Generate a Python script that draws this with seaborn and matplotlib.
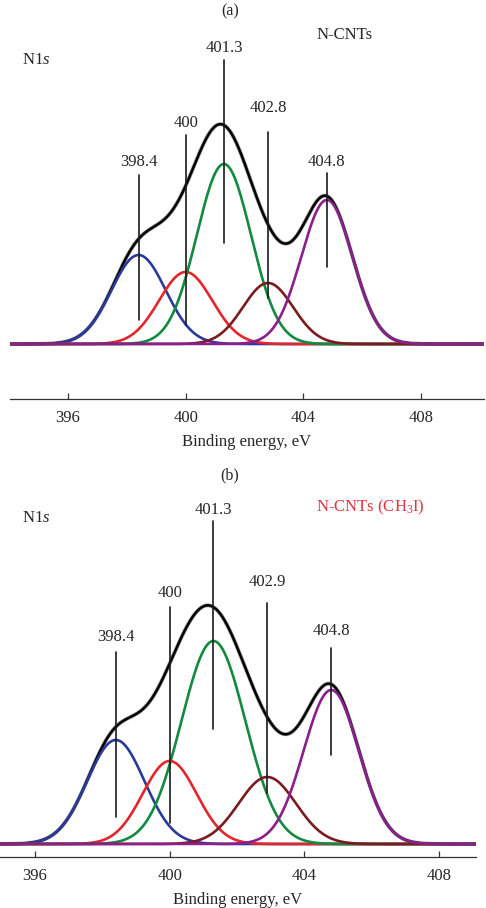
import numpy as np
import pandas as pd
import matplotlib
matplotlib.use("Agg")
import matplotlib.pyplot as plt
import seaborn as sns

# ---------------- data ----------------
components = ["398.4", "400", "401.3", "402.8/402.9", "404.8"]
colors = ["#2a3a9c", "#e3262b", "#128a3f", "#7a1c1f", "#8c1f8e"]

# panel (a) N-CNTs
a_centers = [398.4, 400.0, 401.3, 402.8, 404.8]
a_heights = [89, 72, 180, 61, 144]
a_sigmas = [0.92, 0.9, 0.92, 0.85, 0.87]
a_labels = ["398.4", "400", "401.3", "402.8", "404.8"]
a_label_y = [182, 221, 296, 236, 182]
a_line_lo = [24, 19, 101, 46, 77]
a_line_hi = [169, 209, 284, 212, 171]

# panel (b) N-CNTs (CH3I)
b_centers = [398.4, 400.0, 401.3, 402.9, 404.8]
b_heights = [104, 83, 203, 67, 154]
b_sigmas = [0.85, 0.8, 0.95, 0.85, 0.82]
b_labels = ["398.4", "400", "401.3", "402.9", "404.8"]
b_label_y = [207, 251, 334, 262, 213]
b_line_lo = [27, 21, 115, 51, 89]
b_line_hi = [192, 237, 323, 241, 196]

xticks = [396, 400, 404, 408]

# ---------------- style ----------------
sns.set_style("white")
plt.rcParams["font.family"] = ["Liberation Serif", "DejaVu Serif"]
plt.rcParams["mathtext.fontset"] = "custom"
plt.rcParams["mathtext.rm"] = "Liberation Serif"
plt.rcParams["mathtext.it"] = "Liberation Serif:italic"

W, H = 486, 908
fig = plt.figure(figsize=(W / 100, H / 100), dpi=100)


def add_axes_px(x0, x1, ytop, ybot):
    return fig.add_axes([x0 / W, 1 - ybot / H, (x1 - x0) / W, (ybot - ytop) / H])


def draw_panel(ax, centers, heights, sigmas, labels, label_y, lo, hi, xlim, ylim):
    x = np.linspace(xlim[0], xlim[1], 800)
    rows = []
    total = np.zeros_like(x)
    for name, c, h, s in zip(components, centers, heights, sigmas):
        y = h * np.exp(-((x - c) ** 2) / (2 * s ** 2))
        total += y
        rows.append(pd.DataFrame({"x": x, "y": y, "comp": name}))
    df = pd.concat(rows, ignore_index=True)
    tot = pd.DataFrame({"x": x, "y": total})
    sns.lineplot(data=tot, x="x", y="y", ax=ax, color="#9a9a9a", lw=2.8, zorder=1)
    sns.lineplot(data=tot, x="x", y="y", ax=ax, color="black", lw=1.8, zorder=2)
    sns.lineplot(data=df, x="x", y="y", hue="comp", palette=colors,
                 hue_order=components, ax=ax, lw=1.9, legend=False, zorder=3)
    for c, lab, ly, l0, l1 in zip(centers, labels, label_y, lo, hi):
        ax.plot([c, c], [l0, l1], color="#1a1a1a", lw=1.2, zorder=4)
        ax.text(c, ly, lab, ha="center", va="center", fontsize=12)
    ax.set_xlim(*xlim)
    ax.set_ylim(*ylim)
    ax.set_xticks(xticks)
    ax.set_yticks([])
    ax.set_ylabel("")
    ax.set_xlabel("Binding energy, eV", fontsize=12, labelpad=6)
    for sp in ["left", "right", "top"]:
        ax.spines[sp].set_visible(False)
    ax.spines["bottom"].set_color("#333333")
    ax.spines["bottom"].set_linewidth(0.9)
    ax.tick_params(axis="x", direction="in", length=4, width=0.9,
                   color="#333333", labelsize=12, pad=8, bottom=True)
    ax.patch.set_alpha(0)


ax_a = add_axes_px(10, 484, 20, 399)
draw_panel(ax_a, a_centers, a_heights, a_sigmas, a_labels, a_label_y,
           a_line_lo, a_line_hi, (394.03, 410.14), (-55, 324))

ax_b = add_axes_px(0, 476, 480, 857)
draw_panel(ax_b, b_centers, b_heights, b_sigmas, b_labels, b_label_y,
           b_line_lo, b_line_hi, (394.96, 409.10), (-13, 364))

# figure annotations
fig.text(230 / W, 1 - 11 / H, "(a)", ha="center", va="center", fontsize=11.5)
fig.text(22 / W, 1 - 60 / H, r"N1$\mathit{s}$", ha="left", va="center", fontsize=12)
fig.text(317 / W, 1 - 35 / H, "N-CNTs", ha="left", va="center", fontsize=12)

fig.text(230 / W, 1 - 475 / H, "(b)", ha="center", va="center", fontsize=11.5)
fig.text(22 / W, 1 - 518 / H, r"N1$\mathit{s}$", ha="left", va="center", fontsize=12)
fig.text(316 / W, 1 - 507 / H, r"N-CNTs (CH$_3$I)", ha="left", va="center",
         fontsize=12, color="#e0343f")

fig.savefig("out.png", dpi=100)
